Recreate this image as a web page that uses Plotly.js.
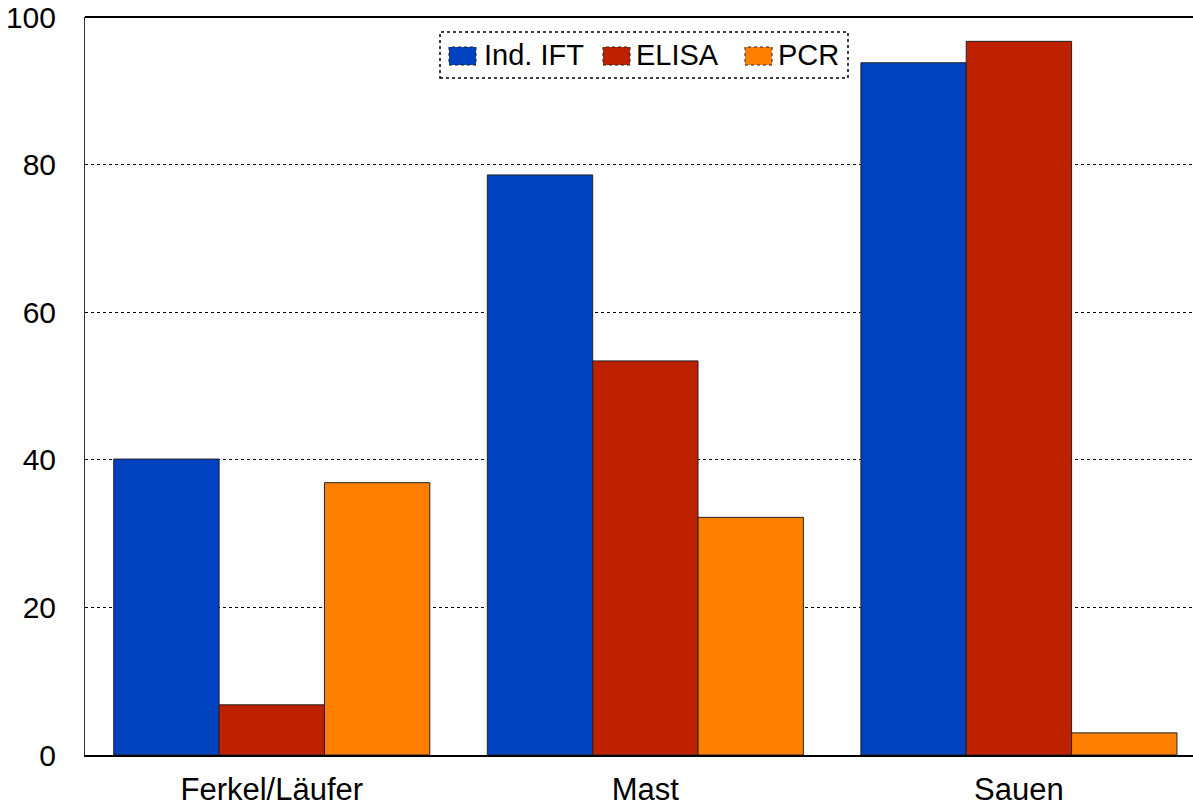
<!DOCTYPE html>
<html><head><meta charset="utf-8">
<script src="https://cdn.plot.ly/plotly-3.0.1.min.js"></script>
<style>html,body{margin:0;padding:0;overflow:hidden;background:#fff}</style>
</head><body>
<div id="chart" style="width:1193px;height:809px"></div>
<script>
const categories = ["Ferkel/Läufer", "Mast", "Sauen"];
const seriesNames = ["Ind. IFT", "ELISA", "PCR"];
const ift = [40.1, 78.6, 93.8];
const elisa = [6.8, 53.4, 96.7];
const pcr = [36.9, 32.2, 3.0];
const colors = ["#0041C0", "#BD2100", "#FF8000"];
const yTicks = [0, 20, 40, 60, 80, 100];

const W = 1193, H = 809;
const M = {l: 85, r: 0, t: 17, b: 54};
const pw = W - M.l - M.r, ph = H - M.t - M.b;
const px = x => (x - M.l) / pw;
const py = y => (H - M.b - y) / ph;

const values = [ift, elisa, pcr];
const traces = values.map((v, i) => ({
  type: "bar",
  name: seriesNames[i],
  x: [0, 1, 2],
  y: v,
  marker: {color: colors[i], line: {color: "#222", width: 1}}
}));

const font = {family: "Liberation Sans, Arial, sans-serif", size: 30, color: "#000"};

// custom legend (larger swatches like the reference)
const legendBox = {x0: 440, x1: 848, y0: 32, y1: 78};
const swatchX = [449, 603, 745];
const textX = [482, 634, 776];
const shapes = [
  {type: "line", xref: "paper", yref: "paper", x0: 0, x1: 1, y0: 1, y1: 1,
   line: {color: "#000", width: 2}},
  {type: "rect", xref: "paper", yref: "paper",
   x0: px(legendBox.x0), x1: px(legendBox.x1), y0: py(legendBox.y1), y1: py(legendBox.y0),
   fillcolor: "#fff", line: {color: "#000", width: 1.5, dash: "dot"}, layer: "above"}
];
const annotations = [];
seriesNames.forEach((n, i) => {
  shapes.push({type: "rect", xref: "paper", yref: "paper",
    x0: px(swatchX[i]), x1: px(swatchX[i] + 27), y0: py(65), y1: py(47),
    fillcolor: colors[i], line: {color: "#222", width: 1, dash: "dot"}, layer: "above"});
  annotations.push({xref: "paper", yref: "paper", x: px(textX[i]), y: py(55),
    xanchor: "left", yanchor: "middle", text: n, showarrow: false,
    font: {family: font.family, size: 29, color: "#000"}});
});

const layout = {
  width: W, height: H,
  margin: M,
  paper_bgcolor: "#fff", plot_bgcolor: "#fff",
  font: font,
  barmode: "group",
  bargap: 0.154,
  bargroupgap: 0,
  showlegend: false,
  xaxis: {
    range: [-0.5, 2.466],
    tickvals: [0, 1, 2], ticktext: categories,
    tickfont: {family: font.family, size: 31, color: "#000"},
    showgrid: false, zeroline: false,
    showline: true, linecolor: "#000", linewidth: 2,
    ticks: "", ticklabelstandoff: 6
  },
  yaxis: {
    range: [0, 100], tickvals: yTicks,
    tickfont: {family: font.family, size: 30, color: "#000"},
    showgrid: true, gridcolor: "#000", griddash: "dot", gridwidth: 1,
    zeroline: false,
    showline: true, linecolor: "#333", linewidth: 1,
    ticks: "", ticklabelstandoff: 22
  },
  shapes: shapes,
  annotations: annotations
};
Plotly.newPlot("chart", traces, layout, {staticPlot: true, displayModeBar: false});
</script>
</body></html>
